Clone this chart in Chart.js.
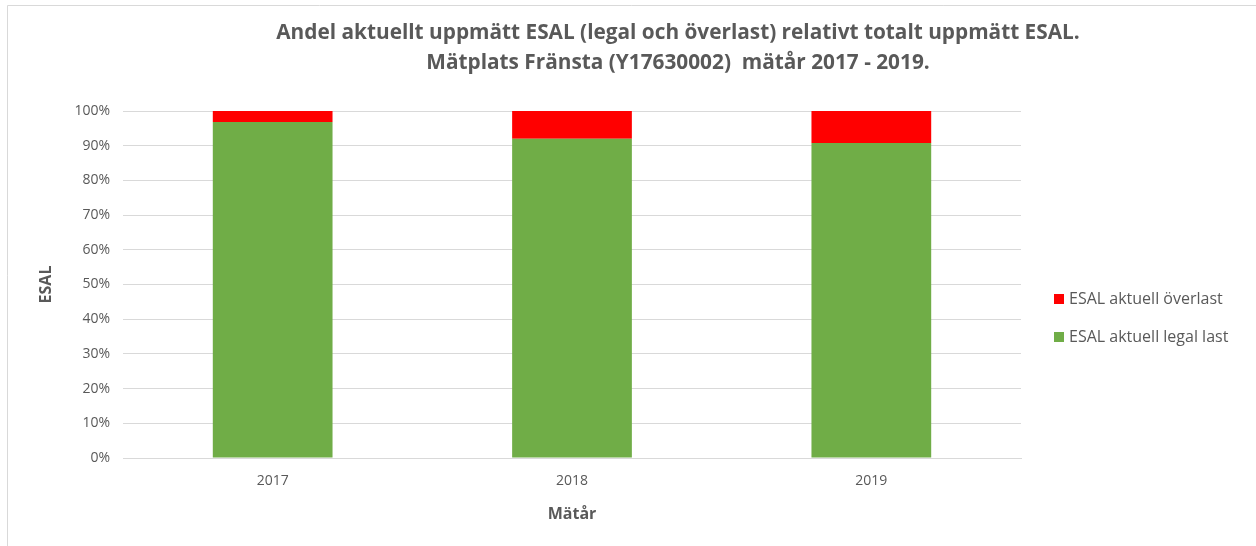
<!DOCTYPE html>
<html>
<head>
<meta charset="utf-8">
<title>ESAL Fränsta</title>
<script src="https://cdn.jsdelivr.net/npm/chart.js@4.4.1/dist/chart.umd.min.js"></script>
<style>
  html, body { margin: 0; padding: 0; background: #fff; }
  #wrap { width: 1256px; height: 546px; position: relative; }
</style>
</head>
<body>
<div id="wrap"><canvas id="esal-chart"></canvas></div>
<script>
// Data
const years = ['2017', '2018', '2019'];
const legalLast = [96.8, 92.0, 90.8];   // ESAL aktuell legal last (%)
const overLast = [3.2, 8.0, 9.2];       // ESAL aktuell överlast (%)
const titleLines = [
  'Andel aktuellt uppmätt ESAL (legal och överlast) relativt totalt uppmätt ESAL.',
  'Mätplats Fränsta (Y17630002)  mätår 2017 - 2019.'
];

const TEXT_COLOR = '#595959';
const FONT = "'Open Sans', 'Noto Sans', sans-serif";

// Frame around the whole chart
const framePlugin = {
  id: 'frame',
  beforeDraw(chart) {
    const ctx = chart.ctx;
    ctx.save();
    ctx.fillStyle = '#fff';
    ctx.fillRect(0, 0, chart.width, chart.height);
    ctx.strokeStyle = '#d9d9d9';
    ctx.lineWidth = 1;
    ctx.beginPath();
    ctx.moveTo(7.5, chart.height);
    ctx.lineTo(7.5, 5.5);
    ctx.lineTo(chart.width, 5.5);
    ctx.stroke();
    ctx.restore();
  }
};

// Two-line title, centred over the full frame width
const titlePlugin = {
  id: 'twoLineTitle',
  afterDraw(chart) {
    const ctx = chart.ctx;
    ctx.save();
    ctx.fillStyle = TEXT_COLOR;
    ctx.font = `bold 20.8px ${FONT}`;
    ctx.textAlign = 'center';
    ctx.textBaseline = 'middle';
    ctx.fillText(titleLines[0], 678, 33);
    ctx.fillText(titleLines[1], 678, 63);
    ctx.restore();
  }
};

// Legend on the right, listed top-down as överlast, legal last
const legendPlugin = {
  id: 'sideLegend',
  afterDraw(chart) {
    const ctx = chart.ctx;
    const items = chart.data.datasets.slice().reverse();
    ctx.save();
    ctx.font = `16px ${FONT}`;
    ctx.textBaseline = 'middle';
    items.forEach((ds, i) => {
      const y = 299 + i * 38;
      ctx.fillStyle = ds.backgroundColor;
      ctx.fillRect(1054, y - 5, 10, 10);
      ctx.fillStyle = TEXT_COLOR;
      ctx.fillText(ds.label, 1069, y);
    });
    ctx.restore();
  }
};

const ctx = document.getElementById('esal-chart').getContext('2d');
const chart = new Chart(ctx, {
  type: 'bar',
  data: {
    labels: years,
    datasets: [
      {
        label: 'ESAL aktuell legal last',
        data: legalLast,
        backgroundColor: '#70AD47',
        categoryPercentage: 1,
        barPercentage: 0.4
      },
      {
        label: 'ESAL aktuell överlast',
        data: overLast,
        backgroundColor: '#FF0000',
        categoryPercentage: 1,
        barPercentage: 0.4
      }
    ]
  },
  options: {
    responsive: true,
    maintainAspectRatio: false,
    animation: false,
    layout: {
      padding: { left: 8, right: 235, top: 111, bottom: 22 }
    },
    plugins: {
      legend: { display: false },
      title: { display: false },
      tooltip: { enabled: false }
    },
    scales: {
      x: {
        stacked: true,
        grid: { display: false, drawTicks: false },
        border: { display: true, color: '#d9d9d9' },
        ticks: { color: TEXT_COLOR, font: { family: FONT, size: 14 }, padding: 15 },
        title: {
          display: true,
          text: 'Mätår',
          color: TEXT_COLOR,
          font: { family: FONT, size: 16, weight: 'bold' },
          padding: { top: 0, bottom: 0 }
        }
      },
      y: {
        stacked: true,
        min: 0,
        max: 100,
        afterFit(scale) { scale.width = 115; },
        grid: { color: '#d9d9d9', drawTicks: false },
        border: { display: false },
        ticks: {
          stepSize: 10,
          color: TEXT_COLOR,
          font: { family: FONT, size: 14 },
          padding: 13,
          callback: (v) => v + '%'
        },
        title: {
          display: true,
          text: 'ESAL',
          color: TEXT_COLOR,
          font: { family: FONT, size: 16, weight: 'bold' },
          padding: { top: 29, bottom: 0 }
        }
      }
    }
  },
  plugins: [framePlugin, titlePlugin, legendPlugin]
});
</script>
</body>
</html>
